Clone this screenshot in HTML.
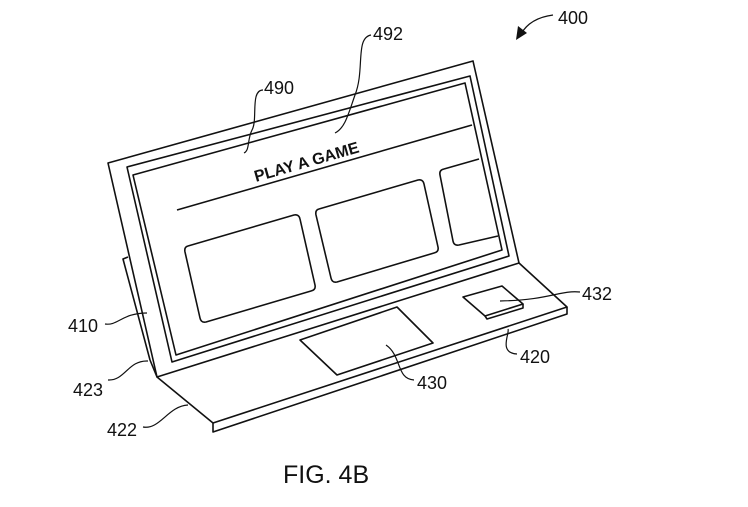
<!DOCTYPE html>
<html><head><meta charset="utf-8"><style>
html,body{margin:0;padding:0;background:#fff;}
svg{display:block;}
text{font-family:"Liberation Sans",sans-serif;fill:#111;}
</style></head><body>
<svg width="748" height="507" viewBox="0 0 748 507" xmlns="http://www.w3.org/2000/svg">
<g fill="none" stroke="#111" stroke-width="1.6" stroke-linejoin="round">
<path d="M128,257 L123,259 L150,360 L157,377"/>
<path d="M108,163 L473,61 L519,263 L157,377 Z"/>
<path d="M127,167 L470,76 L509,256 L172,362 Z"/>
<path d="M133,175 L465,83 L502,250 L176,355 Z"/>
<path d="M177,210 L472,125"/>
<path d="M188,246 L294,215 Q299,214 300,219 L315,285 Q316,290 311,291 L206,322 Q201,323 200,318 L185,252 Q184,247 188,246 Z"/>
<path d="M319,209 L418,180 Q423,179 424,184 L438,247 Q439,252 434,253 L337,282 Q332,283 331,278 L316,215 Q315,210 319,209 Z"/>
<path d="M444,169 L479,159 M498,236 L459,245 Q454,246 453,241 L440,175 Q439,170 444,169"/>
<path d="M157,377 L213,423 L567,307 L519,263"/>
<path d="M213,423 L213,432 L567,314 L567,307"/>
<path d="M300,340 L397,307 L433,343 L337,375 Z"/>
<path d="M463,297 L502,286 L523,304 L485,316 Z"/>
<path d="M485,316 L487,319 L523,308 L523,304"/>
<path d="M553,15 Q530,18 521,34" stroke-width="1.3"/>
<path d="M263,90 C250,90 258,120 252,130 C247,140 250,150 244,153" stroke-width="1.2"/>
<path d="M371,35 C355,38 365,70 355,95 C348,115 345,128 335,133" stroke-width="1.2"/>
<path d="M105,324 C118,326 122,313 147,313" stroke-width="1.2"/>
<path d="M108,380 C125,381 128,360 148,361" stroke-width="1.2"/>
<path d="M143,427 C160,430 168,406 188,405" stroke-width="1.2"/>
<path d="M414,380 C396,379 402,356 386,345" stroke-width="1.2"/>
<path d="M517,354 C498,353 510,333 508,329" stroke-width="1.2"/>
<path d="M580,292 C560,290 550,300 500,301" stroke-width="1.2"/>
</g>
<path d="M516,40 L518,26 L527,33 Z" fill="#111"/>
<text x="558" y="24" font-size="18">400</text>
<text x="264" y="94" font-size="18">490</text>
<text x="373" y="40" font-size="18">492</text>
<text x="68" y="332" font-size="18">410</text>
<text x="73" y="396" font-size="18">423</text>
<text x="107" y="436" font-size="18">422</text>
<text x="417" y="389" font-size="18">430</text>
<text x="520" y="363" font-size="18">420</text>
<text x="582" y="300" font-size="18">432</text>
<text x="308" y="167" font-size="16" font-weight="bold" text-anchor="middle" transform="rotate(-16 308 167)">PLAY A GAME</text>
<text x="283" y="483" font-size="25">FIG. 4B</text>
</svg>
</body></html>
